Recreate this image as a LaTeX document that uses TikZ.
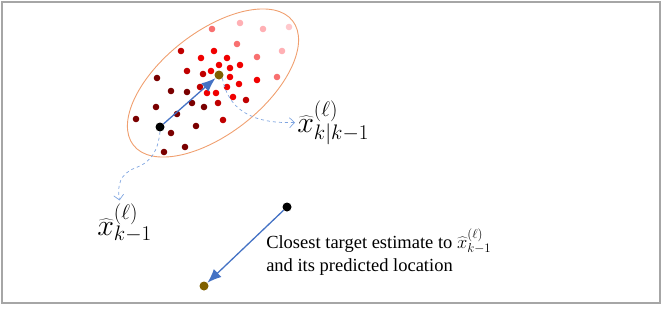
\RequirePackage{fix-cm}
\documentclass[tikz,border=0pt]{standalone}
\usepackage{fontspec}
\setmainfont{Liberation Serif}
\usetikzlibrary{arrows.meta}
\definecolor{maroondot}{HTML}{7A0000}
\definecolor{darkdot}{HTML}{C00000}
\definecolor{brightdot}{HTML}{F00000}
\definecolor{salmondot}{HTML}{F87070}
\definecolor{pinkdot}{HTML}{FFB0B4}
\definecolor{palepinkdot}{HTML}{FFC8CC}
\definecolor{predbrown}{HTML}{7F6000}
\definecolor{arrowblue}{HTML}{4472C4}
\definecolor{guideblue}{HTML}{7EA4E0}
\definecolor{gateorange}{HTML}{F0A070}
\begin{document}
\begin{tikzpicture}[x=1pt, y=-1pt, >=latex, line width=0.5pt,
    pt/.style={circle, inner sep=0pt, minimum size=6.6pt, fill=#1},
    bigpt/.style={circle, inner sep=0pt, minimum size=9pt, fill=#1},
    move/.style={draw=arrowblue, line width=1.3pt, -{Latex[length=14pt, width=11pt]}},
    guide/.style={draw=guideblue, dashed, line width=0.7pt, -{Straight Barb[length=5pt, width=10pt]}},
    lbl/.style={inner sep=0pt, font=\fontsize{30}{36}\selectfont}]
    \useasboundingbox (0,0) rectangle (664,308);
    \draw[gray!70, line width=1.2pt] (2,2) rectangle (660,303);
    % gate round the predicted estimate
    \draw[gateorange, line width=0.9pt, rotate around={38:(213,83)}] (213,83) ellipse [x radius=101pt, y radius=51pt];
    % cloud of candidate points
    \foreach [count=\i] \px/\py in {157/78,171/91,187/92,156/107,177/114,192/103,204/107,136/119,171/133,196/126,185/147,164/152}
        \node[pt=maroondot] (m\i) at (\px,\py) {};
    \foreach [count=\i] \px/\py in {187/71,203/74,200/87,246/100,218/103,223/120,181/51}
        \node[pt=darkdot] (d\i) at (\px,\py) {};
    \foreach [count=\i] \px/\py in {214/51,201/58,227/58,219/65,240/65,211/71,230/68,230/77,257/80,207/93,216/93,227/87,239/84,233/97}
        \node[pt=brightdot] (r\i) at (\px,\py) {};
    \foreach [count=\i] \px/\py in {212/29,237/44,257/57,277/77}
        \node[pt=salmondot] (s\i) at (\px,\py) {};
    \foreach [count=\i] \px/\py in {240/23,263/29,282/51}
        \node[pt=pinkdot] (p\i) at (\px,\py) {};
    \node[pt=palepinkdot] (p4) at (289,27) {};
    % estimates
    \node[bigpt=black] (prevest) at (160,127) {};
    \node[bigpt=predbrown] (predest) at (219,75) {};
    \node[bigpt=black] (closest) at (287,207) {};
    \node[bigpt=predbrown] (closestpred) at (204,286) {};
    \draw[move] (prevest) -- (predest);
    \draw[move] (closest) -- (closestpred);
    % labels
    \node[lbl, anchor=base west] (lblpred) at (297,132) {$\widehat{x}^{(\ell)}_{k|k-1}$};
    \node[lbl, anchor=base west] (lblprev) at (97,235) {$\widehat{x}^{(\ell)}_{k-1}$};
    \draw[guide] (predest.south east) .. controls (228,108) and (250,124) .. ([xshift=-2pt]lblpred.west);
    \draw[guide] (prevest.south) .. controls (158,150) and (152,162) .. (135,168) .. controls (120,174) and (117,185) .. ([xshift=-5pt, yshift=3pt]lblprev.north);
    \node[anchor=north west, align=left, inner sep=0pt, font=\fontsize{18.5}{23}\selectfont] (caption) at (266,229)
        {Closest target estimate to $\widehat{x}^{(\ell)}_{k-1}$\\and its predicted location};
\end{tikzpicture}
\end{document}
